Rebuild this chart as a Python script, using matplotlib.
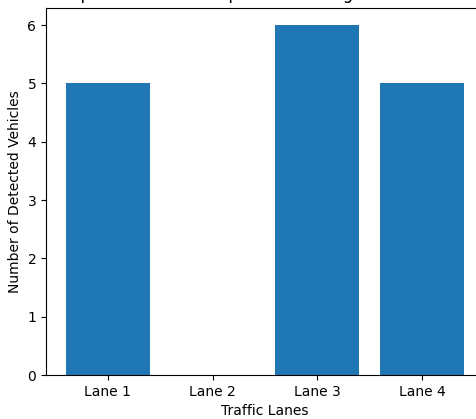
import matplotlib
matplotlib.use("Agg")
import matplotlib.pyplot as plt

lanes = ["Lane 1", "Lane 2", "Lane 3", "Lane 4"]
vehicle_counts = [5, 0, 6, 5]

fig = plt.figure(figsize=(4.77, 4.19), dpi=100)
ax = fig.add_axes([0.0964, 0.105, 0.918, 0.877])

ax.bar(lanes, vehicle_counts, color="#1f77b4")
ax.set_xlabel("Traffic Lanes")
ax.set_ylabel("Number of Detected Vehicles")
# title sits mostly above the visible area, as in the reference
ax.set_title("Spread of Vehicles per Lane Using Sensor Data")

fig.savefig("out.png", dpi=100)
